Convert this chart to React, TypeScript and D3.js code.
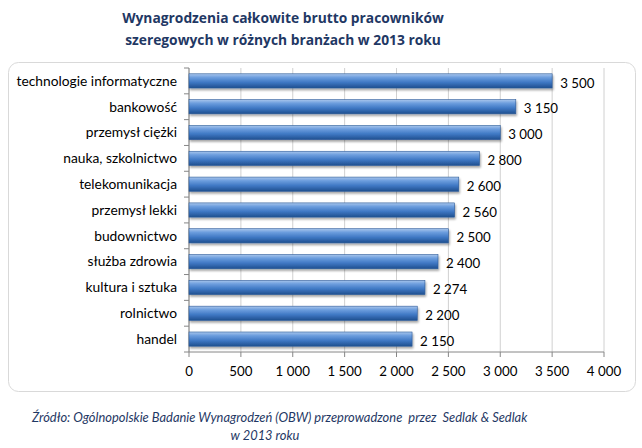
import React from "react";
import * as d3 from "d3";

const categories = [
  "technologie informatyczne",
  "bankowość",
  "przemysł ciężki",
  "nauka, szkolnictwo",
  "telekomunikacja",
  "przemysł lekki",
  "budownictwo",
  "służba zdrowia",
  "kultura i sztuka",
  "rolnictwo",
  "handel",
];
const values = [3500, 3150, 3000, 2800, 2600, 2560, 2500, 2400, 2274, 2200, 2150];
const xTicks = [0, 500, 1000, 1500, 2000, 2500, 3000, 3500, 4000];
const titleLines = [
  "Wynagrodzenia całkowite brutto pracowników",
  "szeregowych w różnych branżach w 2013 roku",
];
const sourceLines = [
  "Źródło: Ogólnopolskie Badanie Wynagrodzeń (OBW) przeprowadzone  przez  Sedlak & Sedlak",
  "w 2013 roku",
];

const fmt = (v: number) => {
  const s = String(v);
  return s.length > 3 ? s.slice(0, s.length - 3) + " " + s.slice(-3) : s;
};

export default function App() {
  const W = 642, H = 448;
  const left = 189, right = 604, top = 68, bottom = 352;
  const x = d3.scaleLinear().domain([0, 4000]).range([left, right]);
  const y = d3.scaleBand<string>().domain(categories).range([top, bottom]).paddingInner(0.45).paddingOuter(0.225);
  const band = (bottom - top) / categories.length;
  const font = "Lato, 'Open Sans', sans-serif";
  return (
    <svg width={W} height={H} style={{ position: "absolute", left: 0, top: 0, background: "#fff" }}>
      <defs>
        <linearGradient id="barg" x1="0" y1="0" x2="0" y2="1">
          <stop offset="0" stopColor="#a9c6ec" />
          <stop offset="0.25" stopColor="#6d9ede" />
          <stop offset="0.6" stopColor="#3f78c4" />
          <stop offset="1" stopColor="#1f4f8f" />
        </linearGradient>
        <filter id="sh" x="-5%" y="-30%" width="110%" height="180%">
          <feGaussianBlur in="SourceAlpha" stdDeviation="1.2" />
          <feOffset dx="1" dy="2" result="o" />
          <feComponentTransfer><feFuncA type="linear" slope="0.35" /></feComponentTransfer>
          <feMerge><feMergeNode /><feMergeNode in="SourceGraphic" /></feMerge>
        </filter>
      </defs>
      {titleLines.map((t, i) => (
        <text key={i} x={283} y={23 + i * 22} textAnchor="middle" fontFamily="'Open Sans', sans-serif"
          fontWeight="bold" fontSize={13.8} fill="#1f3864">{t}</text>
      ))}
      <rect x={8.5} y={62.5} width={627} height={329} rx={10} fill="#fff" stroke="#d9d9d9" />
      {xTicks.map((t) => (
        <line key={"g" + t} x1={x(t)} x2={x(t)} y1={top} y2={bottom} stroke="#d0d0d0" />
      ))}
      <line x1={left} x2={left} y1={top} y2={bottom} stroke="#868686" />
      <line x1={left} x2={right} y1={bottom} y2={bottom} stroke="#868686" />
      {d3.range(categories.length + 1).map((i) => (
        <line key={"yt" + i} x1={left - 5} x2={left} y1={top + i * band} y2={top + i * band} stroke="#868686" />
      ))}
      {xTicks.map((t) => (
        <line key={"xt" + t} x1={x(t)} x2={x(t)} y1={bottom} y2={bottom + 5} stroke="#868686" />
      ))}
      {categories.map((c, i) => (
        <g key={c}>
          <rect x={x(0)} y={y(c)!} width={x(values[i]) - x(0)} height={y.bandwidth()} fill="url(#barg)"
            stroke="#2c5a98" strokeWidth={0.6} filter="url(#sh)" />
          <text x={left - 12} y={y(c)! + y.bandwidth() / 2} dy="0.35em" textAnchor="end"
            fontFamily={font} fontSize={13.8} fill="#000">{c}</text>
          <text x={x(values[i]) + 8} y={y(c)! + y.bandwidth() / 2 + 2} dy="0.35em"
            fontFamily={font} fontSize={13.3} fill="#000">{fmt(values[i])}</text>
        </g>
      ))}
      {xTicks.map((t) => (
        <text key={"xl" + t} x={x(t)} y={bottom + 19} dy="0.35em" textAnchor="middle"
          fontFamily={font} fontSize={13.3} fill="#000">{fmt(t)}</text>
      ))}
      <text x={32} y={422} xmlSpace="preserve" fontFamily={font} fontStyle="italic" fontSize={12.9} fill="#1f3864">{sourceLines[0]}</text>
      <text x={265} y={440} textAnchor="middle" fontFamily={font} fontStyle="italic" fontSize={12.9} fill="#1f3864">{sourceLines[1]}</text>
    </svg>
  );
}
